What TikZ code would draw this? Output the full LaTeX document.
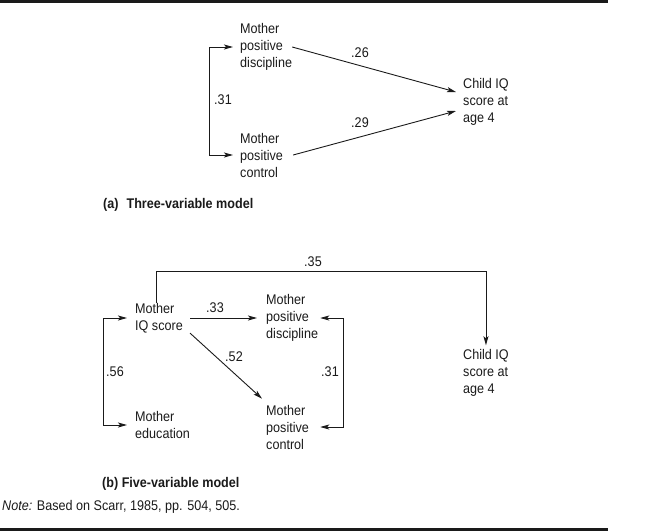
\documentclass[tikz,border=0pt]{standalone}
\usepackage{fontspec,tikz}
\usetikzlibrary{arrows.meta}
\setmainfont[FakeStretch=0.9]{Liberation Sans}
\definecolor{ink}{HTML}{1A1A1A}

\begin{document}
\begin{tikzpicture}[x=1pt,y=-1pt,font=\fontsize{14}{17}\selectfont,
  every node/.style={text=ink,inner sep=0pt},
  var/.style={anchor=west,align=left},
  coef/.style={},
  caption/.style={anchor=west,font=\fontsize{14}{17}\selectfont\bfseries},
  path/.style={draw=ink,line width=.9pt,-{Stealth[length=9pt,width=5pt,inset=2pt]}},
  twoway/.style={draw=ink,line width=.9pt,{Stealth[length=9pt,width=5pt,inset=2pt]}-{Stealth[length=9pt,width=5pt,inset=2pt]}}]
\useasboundingbox (0,0) rectangle (650,531);
% Rules above and below the figure.
\draw[ink,line width=3pt] (0,1.5) -- (608,1.5);
\draw[ink,line width=2.5pt] (0,529.5) -- (608,529.5);
% (a) Three-variable model.
\node[var] (adisc) at (240,47) {Mother\\positive\\discipline};
\node[var] (actrl) at (240,155) {Mother\\positive\\control};
\node[var] (achild) at (463,102) {Child IQ\\score at\\age 4};
\draw[twoway] ([xshift=-7pt]actrl.west) -- ++(-24,0) |- ([xshift=-7pt]adisc.west);
\draw[path] (adisc.east) -- ([xshift=-7pt,yshift=10pt]achild.west);
\draw[path] ([xshift=10pt]actrl.east) -- ([xshift=-7pt,yshift=-9pt]achild.west);
\node[coef] (a31) at (223,100) {.31};
\node[coef] (a26) at (360,53) {.26};
\node[coef] (a29) at (360,123) {.29};
\node[caption] (capa) at (103,205) {(a)\hspace{8pt}Three-variable model};
% (b) Five-variable model.
\node[var] (biq) at (135,318) {Mother\\IQ score};
\node[var] (bdisc) at (266,318) {Mother\\positive\\discipline};
\node[var] (bctrl) at (266,427) {Mother\\positive\\control};
\node[var] (bedu) at (135,425) {Mother\\education};
\node[var] (bchild) at (463,373) {Child IQ\\score at\\age 4};
\draw[path] ([xshift=-3pt]biq.north) -- ++(0,-31) -| ([yshift=4pt]bchild.north);
\draw[path] ([xshift=7pt]biq.east) -- ([xshift=-9pt]bdisc.west);
\draw[path] ([xshift=7pt]biq.south east) -- ([shift={(-4pt,6pt)}]bctrl.north west);
\draw[twoway] ([xshift=-8pt]biq.west) -- ++(-24,0) |- ([xshift=-8pt]bedu.west);
\draw[twoway] ([xshift=2pt]bdisc.east) -- ++(23,0) |- ([xshift=2pt]bdisc.east |- bctrl.east);
\node[coef] (b35) at (313,262) {.35};
\node[coef] (b33) at (215,308) {.33};
\node[coef] (b52) at (234,357) {.52};
\node[coef] (b56) at (115,372) {.56};
\node[coef] (b31) at (330,372) {.31};
\node[caption] (capb) at (102,484) {(b) Five-variable model};
% Source note.
\node[anchor=west] (note) at (2,507) {\textit{Note:} Based on Scarr, 1985, pp. 504, 505.};
\end{tikzpicture}
\end{document}
